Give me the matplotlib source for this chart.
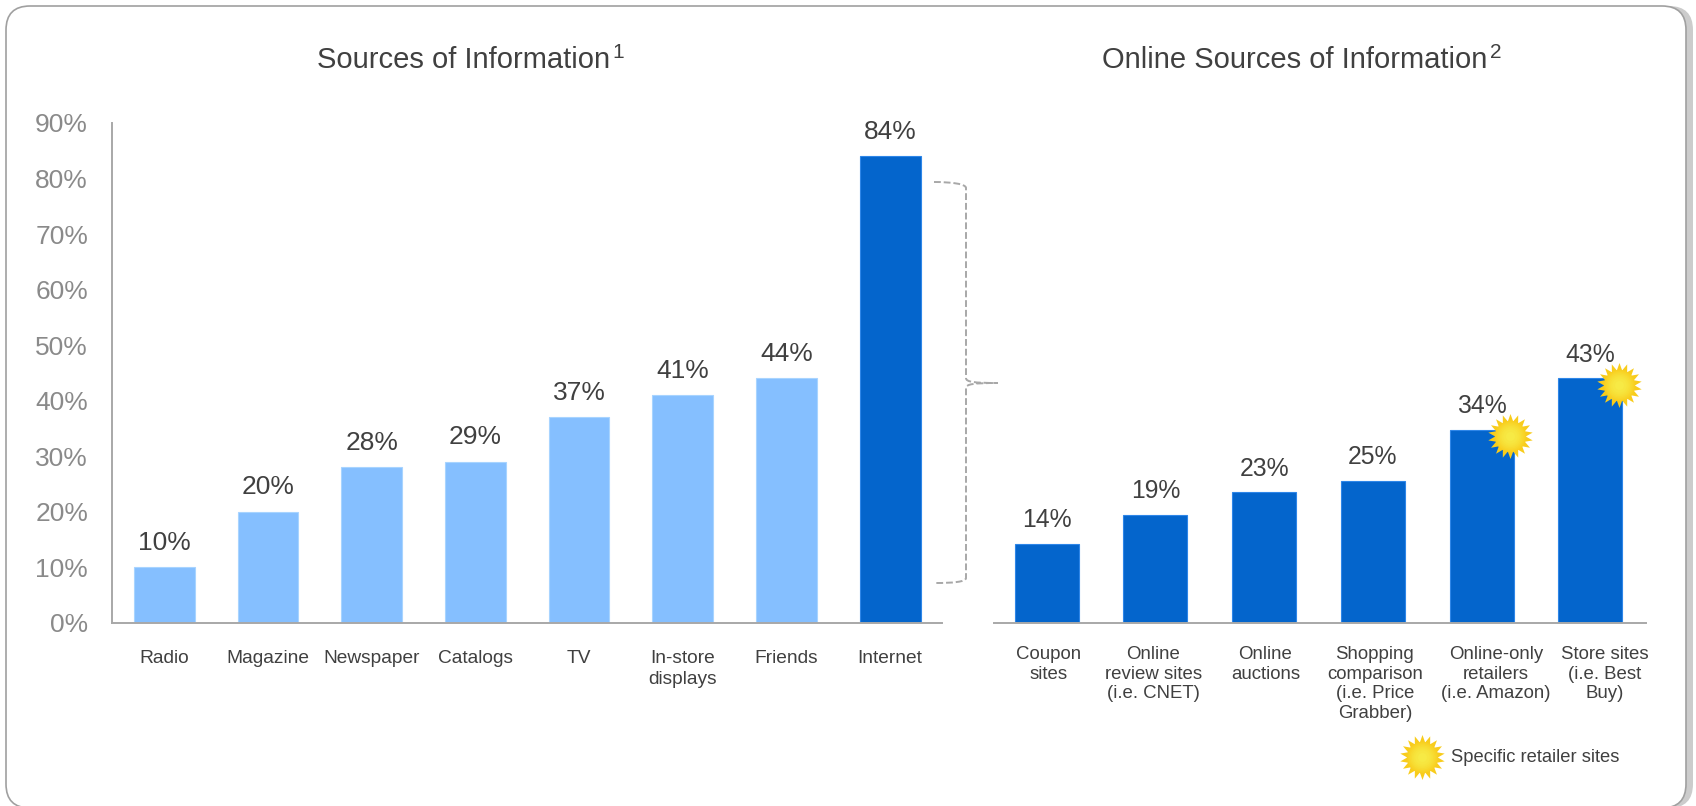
import matplotlib
matplotlib.use('Agg')
import matplotlib.pyplot as plt
from matplotlib.colors import to_rgb
from matplotlib.patches import FancyBboxPatch, PathPatch
from matplotlib.path import Path

W, H = 1696, 806

sources = ['Radio', 'Magazine', 'Newspaper', 'Catalogs', 'TV', 'In-store\ndisplays', 'Friends', 'Internet']
source_vals = [10, 20, 28, 29, 37, 41, 44, 84]
online = ['Coupon\nsites', 'Online\nreview sites\n(i.e. CNET)', 'Online\nauctions',
          'Shopping\ncomparison\n(i.e. Price\nGrabber)', 'Online-only\nretailers\n(i.e. Amazon)',
          'Store sites\n(i.e. Best\nBuy)']
online_vals = [14, 19, 23, 25, 34, 43]
online_nudge = [1.4, -1.6, 1, 1.5, 10.4, 10.4]
retailer_sites = [4, 5]

plt.rcParams['font.family'] = ['Liberation Sans', 'DejaVu Sans']
LIGHT = '#85bfff'
DARK = '#0465cc'
TEXT = '#404040'
GREY = '#a8a8a8'


def px_axes(x0, x1, y_top, y_bottom):
    return fig.add_axes([x0 / W, 1 - y_bottom / H, (x1 - x0) / W, (y_bottom - y_top) / H])


fig = plt.figure(figsize=(W / 100, H / 100), dpi=100, facecolor='white')

# full-figure layer in pixel coordinates for the card, brace and titles
bg = fig.add_axes([0, 0, 1, 1], zorder=0)
bg.set_xlim(0, W)
bg.set_ylim(H, 0)
bg.axis('off')
bg.add_patch(FancyBboxPatch((13, 6), 1680, 802, boxstyle='round,pad=0,rounding_size=24',
                            fc='#cccccc', ec='none'))
bg.add_patch(FancyBboxPatch((6, 6), 1680, 802, boxstyle='round,pad=0,rounding_size=24',
                            fc='white', ec='#a0a0a0', lw=1.2))

bg.text(317, 60, 'Sources of Information', fontsize=21, color=TEXT, ha='left', va='center')
bg.text(612, 53, '1', fontsize=15, color=TEXT, ha='left', va='center')
bg.text(1102, 60, 'Online Sources of Information', fontsize=21, color=TEXT, ha='left', va='center')
bg.text(1490, 53, '2', fontsize=15, color=TEXT, ha='left', va='center')

# brace linking the Internet bar to the online breakdown
brace = Path([(934, 182), (952, 182), (966, 184), (966, 188), (966, 378),
              (966, 382), (974, 383), (998, 383), (974, 383), (966, 384), (966, 388),
              (966, 578), (966, 582), (952, 583), (936, 583)],
             [Path.MOVETO, Path.CURVE4, Path.CURVE4, Path.CURVE4, Path.LINETO,
              Path.CURVE4, Path.CURVE4, Path.CURVE4, Path.CURVE4, Path.CURVE4, Path.CURVE4,
              Path.LINETO, Path.CURVE4, Path.CURVE4, Path.CURVE4])
bg.add_patch(PathPatch(brace, fc='none', ec=GREY, lw=1.4, ls=(0, (3.5, 1.5))))

# left chart
ax1 = px_axes(111.7, 942, 123, 622.7)
ax1.set_facecolor('none')
colors1 = [LIGHT] * 7 + [DARK]
edges1 = ['#a8d4ff'] * 7 + ['#2e86e8']
ax1.bar(range(len(sources)), source_vals, width=0.587, color=colors1, edgecolor=edges1, linewidth=0.8)
ax1.set_xlim(-0.507, 7.5)
ax1.set_ylim(0, 90)
ax1.set_yticks(range(0, 100, 10))
ax1.set_yticklabels([str(v) + '%' for v in range(0, 100, 10)], fontsize=19, color='#8a8a8a')
ax1.set_xticks(range(len(sources)))
ax1.set_xticklabels(sources, fontsize=13.8, color=TEXT, linespacing=1.25)
ax1.tick_params(axis='y', length=0, pad=17)
ax1.tick_params(axis='x', length=0, pad=20)
for s in ['top', 'right']:
    ax1.spines[s].set_visible(False)
for s in ['left', 'bottom']:
    ax1.spines[s].set_color(GREY)
    ax1.spines[s].set_linewidth(1.4)
for i, v in enumerate(source_vals):
    ax1.annotate(str(v) + '%', (i, v), xytext=(0, 17.5), textcoords='offset points',
                 ha='center', va='center', fontsize=19, color=TEXT)

# right chart
ax2 = px_axes(994, 1645.7, 367, 623.3)
ax2.set_facecolor('none')
ax2.bar(range(len(online)), online_vals, width=0.589, color=DARK, edgecolor='#2e86e8', linewidth=0.8)
ax2.set_xlim(-0.485, 5.51)
ax2.set_ylim(0, 45)
ax2.set_yticks([])
ax2.set_xticks([])
for s in ['top', 'right', 'left']:
    ax2.spines[s].set_visible(False)
ax2.spines['bottom'].set_color(GREY)
ax2.spines['bottom'].set_linewidth(1.4)
for i, v in enumerate(online_vals):
    ax2.annotate(str(v) + '%', (i, v), xytext=(0, 17), textcoords='offset points',
                 ha='center', va='center', fontsize=17.8, color=TEXT)
    ax2.annotate(online[i], (i, 0), xytext=(online_nudge[i], -16.5), textcoords='offset points',
                 ha='center', va='top', fontsize=13.4, color=TEXT, linespacing=1.2,
                 annotation_clip=False)

# sunburst markers: spiky star fading to a lighter centre
star = Path.unit_regular_star(18, innerCircle=0.68)
rim = to_rgb('#f8cc1c')
core = to_rgb('#f7ea45')


def sunburst(ax, x, y, size=1050):
    ax.scatter([x], [y], s=size, marker=star, color=[rim], linewidths=0, zorder=5, clip_on=False)
    for k in range(1, 9):
        f = k / 8
        col = tuple(r + (c - r) * f for r, c in zip(rim, core))
        ax.scatter([x], [y], s=size * 0.5 * (1 - f + 0.08), marker='o', color=[col],
                   linewidths=0, zorder=5 + k, clip_on=False)


for i in retailer_sites:
    sunburst(ax2, i + 0.265, online_vals[i] - 1.15)
sunburst(bg, 1422, 757)
bg.text(1451, 757, 'Specific retailer sites', fontsize=13.2, color=TEXT, ha='left', va='center')

fig.savefig('out.png', dpi=100)
